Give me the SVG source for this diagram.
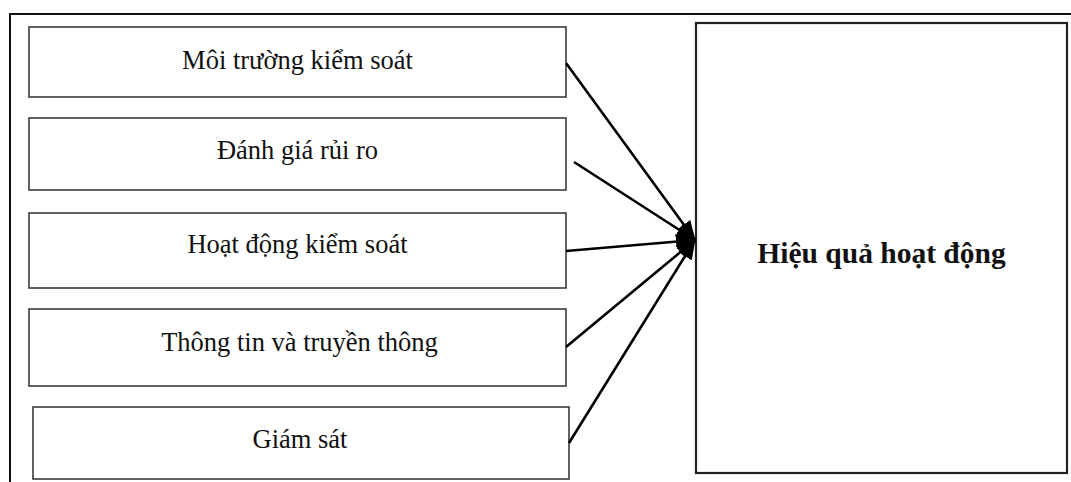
<svg xmlns="http://www.w3.org/2000/svg" width="1071" height="482" viewBox="0 0 1071 482">
<style>
.box{fill:#fff;stroke:#3a3a3a;stroke-width:1.6}
.big{fill:#fff;stroke:#222;stroke-width:2.2}
.lbl{font-family:"Liberation Serif","Times New Roman",serif;font-size:26.5px;fill:#111;text-anchor:middle}
.blbl{font-family:"Liberation Serif","Times New Roman",serif;font-size:29.5px;font-weight:bold;fill:#111;text-anchor:middle}
.conn{stroke:#000;stroke-width:2.6;fill:none;marker-end:url(#ah)}
</style>
<defs>
<marker id="ah" markerUnits="userSpaceOnUse" markerWidth="20" markerHeight="16" refX="19" refY="8" orient="auto">
<path d="M0,0 L20,8 L0,16 Z" fill="#000"/>
</marker>
</defs>
<rect width="1071" height="482" fill="#fff"/>
<g id="frame">
<path d="M10,482 L10,14 L1071,14" fill="none" stroke="#111" stroke-width="2"/>
</g>
<g id="n1"><rect class="box" x="29" y="27" width="537" height="70"/><text class="lbl" x="297.5" y="68.5">Môi trường kiểm soát</text></g>
<g id="n2"><rect class="box" x="29" y="118" width="537" height="72"/><text class="lbl" x="297.5" y="158.5">Đánh giá rủi ro</text></g>
<g id="n3"><rect class="box" x="29" y="213" width="537" height="75"/><text class="lbl" x="297.5" y="253">Hoạt động kiểm soát</text></g>
<g id="n4"><rect class="box" x="29" y="309" width="537" height="77"/><text class="lbl" x="299.5" y="350.5">Thông tin và truyền thông</text></g>
<g id="n5"><rect class="box" x="33" y="407" width="536" height="72"/><text class="lbl" x="300" y="448">Giám sát</text></g>
<g id="target"><rect class="big" x="696" y="23" width="371" height="450"/><text class="blbl" x="881.5" y="263">Hiệu quả hoạt động</text></g>
<g id="connectors">
<line class="conn" x1="566" y1="63" x2="695" y2="240"/>
<line class="conn" x1="574" y1="162" x2="695" y2="240"/>
<line class="conn" x1="566" y1="251" x2="695" y2="240"/>
<line class="conn" x1="566" y1="347" x2="695" y2="240"/>
<line class="conn" x1="569" y1="443" x2="695" y2="240"/>
</g>
</svg>
